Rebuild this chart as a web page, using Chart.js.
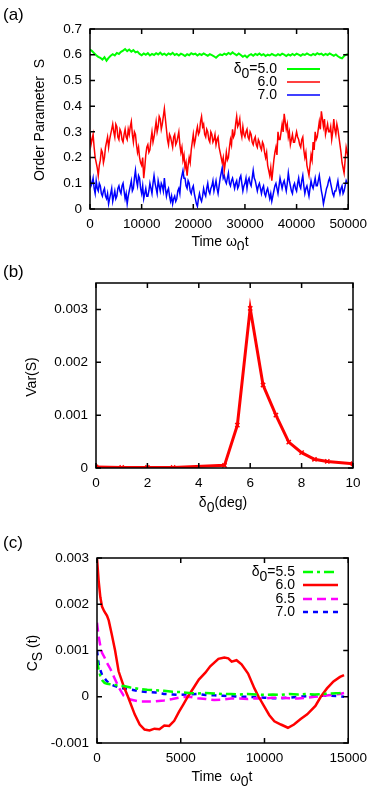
<!DOCTYPE html>
<html>
<head>
<meta charset="utf-8">
<script src="https://cdn.jsdelivr.net/npm/chart.js@4"></script>
<style>
  html, body { margin: 0; padding: 0; background: #fff; }
  body { width: 374px; height: 799px; position: relative; overflow: hidden; }
  canvas { position: absolute; left: 0; }
</style>
</head>
<body>
<canvas id="chartA" width="374" height="250" style="top:0px"></canvas>
<canvas id="chartB" width="374" height="275" style="top:250px"></canvas>
<canvas id="chartC" width="374" height="274" style="top:525px"></canvas>
<script>
// (a) order parameter S(t); green sampled every 400, red and blue every 200
const stepS50 = 400
const stepS60 = 200
const stepS70 = 200
const orderS50 = [
  .620, .614, .606, .598, .592, .588, .581, .590, .577, .588, .596, .602, .597, .607, .603, .611,
  .616, .622, .614, .620, .612, .618, .609, .612, .603, .598, .605, .600, .606, .597, .603, .599,
  .606, .601, .608, .600, .604, .598, .605, .601, .607, .599, .603, .597, .604, .600, .595, .602,
  .598, .606, .601, .604, .597, .603, .599, .605, .600, .596, .602, .598, .594, .588, .596, .601,
  .598, .604, .600, .607, .602, .609, .603, .598, .605, .599, .592, .597, .590, .598, .602, .596,
  .603, .599, .605, .598, .602, .595, .600, .597, .603, .599, .596, .602, .598, .604, .600, .595,
  .601, .597, .603, .598, .604, .600, .596, .602, .599, .605, .600, .597, .603, .599, .606, .601,
  .604, .598, .603, .599, .605, .600, .596, .601, .594, .589, .586, .595, .600, .602
]
const orderS60 = [
  .30, .25, .27, .29, .24, .20, .18, .16, .13, .17, .19, .23, .22, .18, .20, .24, .26, .28, .24, .27, .29, .31, .33, .30, .28, .33, .32, .28, .27, .31, .30, .27,
  .26, .29, .31, .28, .27, .31, .29, .32, .34, .29, .26, .30, .29, .25, .22, .24, .20, .18, .17, .20, .12, .16, .21, .24, .25, .22, .23, .27, .30, .26, .28, .31,
  .34, .30, .32, .36, .35, .31, .33, .36, .39, .35, .31, .27, .25, .29, .28, .26, .24, .28, .29, .25, .26, .28, .30, .25, .22, .24, .19, .21, .16, .18, .13, .17,
  .20, .18, .23, .26, .29, .25, .27, .30, .32, .29, .30, .34, .36, .32, .33, .29, .28, .31, .30, .27, .26, .30, .29, .26, .27, .29, .25, .27, .28, .24, .22, .20,
  .18, .20, .15, .18, .22, .19, .20, .24, .27, .25, .31, .28, .29, .33, .36, .32, .33, .35, .30, .28, .32, .29, .28, .30, .31, .28, .27, .30, .29, .26, .25, .27,
  .28, .25, .24, .27, .26, .24, .23, .26, .25, .22, .20, .22, .17, .15, .13, .16, .11, .15, .19, .22, .24, .21, .30, .27, .27, .30, .33, .30, .37, .34, .31, .33,
  .28, .30, .25, .27, .29, .26, .26, .28, .30, .28, .27, .25, .24, .27, .28, .23, .20, .22, .17, .15, .13, .17, .21, .19, .26, .23, .30, .27, .28, .31, .34, .31,
  .38, .35, .32, .35, .29, .31, .33, .30, .30, .32, .27, .30, .35, .31, .29, .33, .31, .28, .25, .22, .18, .16, .14, .19, .24, .22, .20
]
const orderS70 = [
  .13, .09, .10, .12, .08, .06, .11, .08, .07, .10, .09, .06, .05, .07, .08, .05, .04, .06, .02, .04, .06, .08, .03, .05, .07, .04, .05, .08, .09, .07, .06, .09,
  .10, .07, .04, .06, .02, .05, .07, .09, .11, .07, .08, .12, .15, .11, .09, .13, .12, .08, .06, .09, .04, .06, .08, .05, .05, .07, .10, .08, .06, .10, .13, .10,
  .08, .06, .11, .09, .07, .10, .09, .07, .12, .08, .05, .07, .08, .05, .03, .05, .02, .04, .05, .03, .04, .07, .08, .06, .11, .13, .15, .12, .12, .09, .08, .11,
  .10, .07, .06, .08, .09, .06, .04, .02, .01, .04, .06, .04, .03, .05, .08, .06, .05, .08, .10, .07, .06, .08, .09, .11, .07, .09, .11, .08, .06, .09, .12, .14,
  .16, .12, .13, .11, .10, .12, .14, .10, .09, .11, .12, .10, .08, .10, .11, .08, .09, .12, .13, .10, .07, .09, .10, .12, .08, .11, .12, .10, .09, .12, .15, .12,
  .11, .09, .07, .09, .10, .08, .06, .08, .09, .06, .05, .07, .08, .06, .04, .06, .03, .05, .07, .09, .10, .08, .06, .09, .12, .10, .08, .10, .11, .09, .07, .10,
  .14, .11, .09, .07, .06, .09, .10, .08, .07, .10, .12, .09, .08, .11, .13, .09, .06, .08, .09, .07, .05, .08, .11, .09, .08, .10, .12, .09, .09, .11, .13, .10,
  .07, .05, .02, .04, .06, .08, .09, .11, .12, .10, .08, .06, .05, .07, .07, .09, .11, .08, .06, .08, .09, .06, .07, .09, .11, .10, .10
]
const ticksAX = [0, 10000, 20000, 30000, 40000, 50000]
const ticksAY = [0, 0.1, 0.2, 0.3, 0.4, 0.5, 0.6, 0.7]

// (b) variance of S against delta0
const delta0 = [0, 1, 2, 3, 5, 5.5, 6, 6.5, 7, 7.5, 8, 8.5, 9, 10]
const varS = [0.00002, 0.00001, 0.00001, 0.00001, 0.00005, 0.00081, 0.00302, 0.00157, 0.00100, 0.00049, 0.00029, 0.000165, 0.000125, 0.00008]
const ticksBX = [0, 2, 4, 6, 8, 10]
const ticksBY = [0, 0.001, 0.002, 0.003]

// (c) autocorrelation C_S(t)
const corrTime60 = [0, 100, 200, 300, 430, 600, 700, 880, 1080, 1290, 1600, 1850, 2250, 2550, 2840, 3140, 3430, 3730, 4020, 4310,
  4610, 4900, 5150, 5420, 5780, 6080, 6470, 6760, 7250, 7600, 7840, 8040, 8330, 8630, 9020, 9400, 9650, 10000, 10290, 10590,
  10980, 11400, 11760, 12160, 12550, 13040, 13360, 13730, 14120, 14510, 14750]
const corr60 = [0.0030, 0.0025, 0.00215, 0.00195, 0.00185, 0.00175, 0.00165, 0.00135, 0.0010, 0.00055,
  0.00022, 0, -0.00038, -0.0006, -0.00071, -0.00073, -0.00069, -0.0007, -0.00062, -0.00063,
  -0.00052, -0.00032, -0.00017, 0, 0.0002, 0.00037, 0.00052, 0.00066, 0.00082, 0.00085,
  0.00083, 0.00076, 0.00079, 0.0007, 0.0005, 0.00018, 0, -0.00022, -0.0004, -0.00053,
  -0.0006, -0.00067, -0.0006, -0.00048, -0.00038, -0.0002, 0, 0.00018, 0.00033, 0.00043, 0.00047]
const corrTime = [0, 100, 200, 300, 450, 600, 800, 1000, 1300, 1600, 2000, 2500, 3000, 3500, 4000, 4500, 5000, 5500, 6000,
  6500, 7000, 7500, 8000, 8500, 9000, 9500, 10000, 10500, 11000, 11500, 12000, 12500, 13000, 13500, 14000, 14500, 14750]
const corr55 = [0.0008, 0.00058, 0.00045, 0.00036, 0.0003, 0.00028, 0.00027, 0.00026, 0.00024, 0.00023, 0.0002, 0.00017, 0.00015,
  0.00014, 0.00013, 0.00011, 0.0001, 0.00008, 0.00007, 0.00008, 0.00007, 0.00006, 0.00006, 0.00005, 0.00006, 0.00005, 0.00004,
  0.00005, 0.00004, 0.00006, 0.00005, 0.00006, 0.00005, 0.00006, 0.00007, 0.00008, 0.0001]
const corr65 = [0.0016, 0.0013, 0.0011, 0.00095, 0.00085, 0.00073, 0.0006, 0.00044, 0.0002, 0.00002, -0.00006, -0.0001, -0.0001,
  -0.0001, -0.00008, -0.00005, -0.00001, 0, -0.00003, -0.00005, -0.00007, -0.00006, -0.00004, -0.00004, -0.00005, -0.00003,
  -0.00004, -0.00002, -0.00002, -0.00003, -0.00004, -0.00002, 0, 0.00002, 0.00004, 0.00006, 0.00008]
const corr70 = [0.001, 0.0007, 0.00058, 0.00047, 0.0004, 0.00033, 0.00027, 0.00024, 0.0002, 0.00018, 0.00016, 0.00012, 0.0001,
  0.00009, 0.00006, 0.00005, 0.00004, 0.00005, 0.00006, 0.00004, 0.00003, 0.00002, 0.00001, 0, 0, -0.00001, -0.00002,
  -0.00003, -0.00003, -0.00002, 0, 0.00001, 0.00003, 0.00002, 0.00002, 0.00001, 0]
const ticksCX = [0, 5000, 10000, 15000]
const ticksCY = [-0.001, 0, 0.001, 0.002, 0.003]

const FONT = '"Liberation Sans", Arial, sans-serif'
const GREEN = "#00ff00"
const RED = "#ff0000"
const BLUE = "#0000ff"
const MAGENTA = "#ff00ff"

function drawRich(ctx, parts, x, y, align, size) {
  ctx.font = size + "px " + FONT
  const w = parts.reduce((s, p) => s + ctx.measureText(p[0]).width, 0)
  let cx = align === "center" ? x - w / 2 : align === "right" ? x - w : x
  ctx.textAlign = "left"
  ctx.textBaseline = "middle"
  parts.forEach(([t, sub]) => {
    ctx.fillText(t, cx, sub ? y + size * 0.35 : y)
    cx += ctx.measureText(t).width
  })
}

// gnuplot-like frame: box, inward mirrored ticks, titles and key
const framePlugin = {
  id: "frame",
  afterDatasetsDraw(chart, args, o) {
    const { ctx, chartArea: a, scales } = chart
    ctx.save()
    ctx.strokeStyle = "#000"
    ctx.lineWidth = 1.5
    ctx.strokeRect(a.left, a.top, a.width, a.height)
    ctx.beginPath()
    scales.x.ticks.forEach(t => {
      const px = scales.x.getPixelForValue(t.value)
      ctx.moveTo(px, a.bottom); ctx.lineTo(px, a.bottom - 5)
      ctx.moveTo(px, a.top); ctx.lineTo(px, a.top + 5)
    })
    scales.y.ticks.forEach(t => {
      const py = scales.y.getPixelForValue(t.value)
      ctx.moveTo(a.left, py); ctx.lineTo(a.left + 5, py)
      ctx.moveTo(a.right, py); ctx.lineTo(a.right - 5, py)
    })
    ctx.stroke()

    ctx.fillStyle = "#000"
    ctx.font = "17px " + FONT
    ctx.textAlign = "left"
    ctx.textBaseline = "middle"
    ctx.fillText(o.panel[0], o.panel[1], o.panel[2])

    drawRich(ctx, o.xTitle.parts, o.xTitle.x, o.xTitle.y, "center", 14)
    ctx.save()
    ctx.translate(o.yTitle.x, o.yTitle.y)
    ctx.rotate(-Math.PI / 2)
    drawRich(ctx, o.yTitle.parts, 0, 0, "center", 14)
    ctx.restore()

    if (o.key) {
      o.key.rows.forEach((r, i) => {
        const y = o.key.y[i]
        ctx.fillStyle = "#000"
        drawRich(ctx, r.parts, o.key.textRight, y, "right", 14)
        const ds = chart.data.datasets[r.ds]
        ctx.strokeStyle = ds.borderColor
        ctx.lineWidth = ds.borderWidth
        ctx.setLineDash(ds.borderDash || [])
        ctx.beginPath()
        ctx.moveTo(o.key.x0, y)
        ctx.lineTo(o.key.x1, y)
        ctx.stroke()
      })
    }
    ctx.restore()
  }
}

function axes(xTicks, yTicks, xr, yr, yWidth, xHeight) {
  const tickFont = { family: FONT, size: 13.5 }
  return {
    x: {
      type: "linear", min: xr[0], max: xr[1],
      grid: { drawOnChartArea: false, drawTicks: false },
      border: { display: false },
      ticks: { color: "#000", font: tickFont, padding: 7, maxRotation: 0, callback: v => String(v) },
      afterBuildTicks: s => { s.ticks = xTicks.map(v => ({ value: v })) },
      afterFit: s => { s.height = xHeight }
    },
    y: {
      type: "linear", min: yr[0], max: yr[1],
      grid: { drawOnChartArea: false, drawTicks: false },
      border: { display: false },
      ticks: { color: "#000", font: tickFont, padding: 8, callback: v => String(v) },
      afterBuildTicks: s => { s.ticks = yTicks.map(v => ({ value: v })) },
      afterFit: s => { s.width = yWidth }
    }
  }
}

const common = {
  responsive: false,
  animation: false,
  devicePixelRatio: 1,
  elements: { point: { radius: 0 }, line: { tension: 0 } }
}

// xs: array of x values, or a fixed sampling step
const line = (xs, ys, color, width, dash) => ({
  data: ys.map((v, i) => ({ x: Array.isArray(xs) ? xs[i] : i * xs, y: v })),
  borderColor: color,
  backgroundColor: color,
  borderWidth: width,
  borderDash: dash,
  pointRadius: 0,
  fill: false
})

new Chart(document.getElementById("chartA"), {
  type: "line",
  data: {
    datasets: [
      line(stepS50, orderS50, GREEN, 2),
      line(stepS60, orderS60, RED, 1.5),
      line(stepS70, orderS70, BLUE, 1.5)
    ]
  },
  options: {
    ...common,
    layout: { padding: { top: 29, right: 21, left: 0, bottom: 0 } },
    scales: axes(ticksAX, ticksAY, [0, 50000], [0, 0.7], 90, 41),
    plugins: {
      legend: { display: false }, tooltip: { enabled: false },
      frame: {
        panel: ["(a)", 3, 15],
        xTitle: { parts: [["Time ω", 0], ["0", 1], ["t", 0]], x: 220, y: 242 },
        yTitle: { parts: [["Order Parameter  S", 0]], x: 40, y: 120 },
        key: {
          textRight: 277, x0: 287, x1: 320, y: [69, 82, 95],
          rows: [
            { parts: [["δ", 0], ["0", 1], ["=5.0", 0]], ds: 0 },
            { parts: [["6.0", 0]], ds: 1 },
            { parts: [["7.0", 0]], ds: 2 }
          ]
        }
      }
    }
  },
  plugins: [framePlugin]
})

new Chart(document.getElementById("chartB"), {
  type: "line",
  data: {
    datasets: [{
      ...line(delta0, varS, RED, 3),
      pointStyle: "crossRot",
      pointRadius: 3,
      pointBorderWidth: 1.5
    }]
  },
  options: {
    ...common,
    layout: { padding: { top: 33, right: 21, left: 0, bottom: 0 } },
    scales: axes(ticksBX, ticksBY, [0, 10], [0, 0.0035], 96, 57),
    plugins: {
      legend: { display: false }, tooltip: { enabled: false },
      frame: {
        panel: ["(b)", 3, 22],
        xTitle: { parts: [["δ", 0], ["0", 1], ["(deg)", 0]], x: 223, y: 253 },
        yTitle: { parts: [["Var(S)", 0]], x: 32, y: 127 }
      }
    }
  },
  plugins: [framePlugin]
})

new Chart(document.getElementById("chartC"), {
  type: "line",
  data: {
    datasets: [
      line(corrTime, corr55, GREEN, 2.5, [10, 4, 3, 4]),
      line(corrTime60, corr60, RED, 2.5),
      line(corrTime, corr65, MAGENTA, 2.5, [9, 5]),
      line(corrTime, corr70, BLUE, 2.5, [5, 5])
    ]
  },
  options: {
    ...common,
    layout: { padding: { top: 33, right: 21, left: 0, bottom: 0 } },
    scales: axes(ticksCX, ticksCY, [0, 15000], [-0.001, 0.003], 97, 56),
    plugins: {
      legend: { display: false }, tooltip: { enabled: false },
      frame: {
        panel: ["(c)", 3, 18],
        xTitle: { parts: [["Time  ω", 0], ["0", 1], ["t", 0]], x: 222, y: 252 },
        yTitle: { parts: [["C", 0], ["S", 1], [" (t)", 0]], x: 33, y: 128 },
        key: {
          textRight: 295, x0: 303, x1: 338, y: [47, 60, 74, 87],
          rows: [
            { parts: [["δ", 0], ["0", 1], ["=5.5", 0]], ds: 0 },
            { parts: [["6.0", 0]], ds: 1 },
            { parts: [["6.5", 0]], ds: 2 },
            { parts: [["7.0", 0]], ds: 3 }
          ]
        }
      }
    }
  },
  plugins: [framePlugin]
})
</script>
</body>
</html>
